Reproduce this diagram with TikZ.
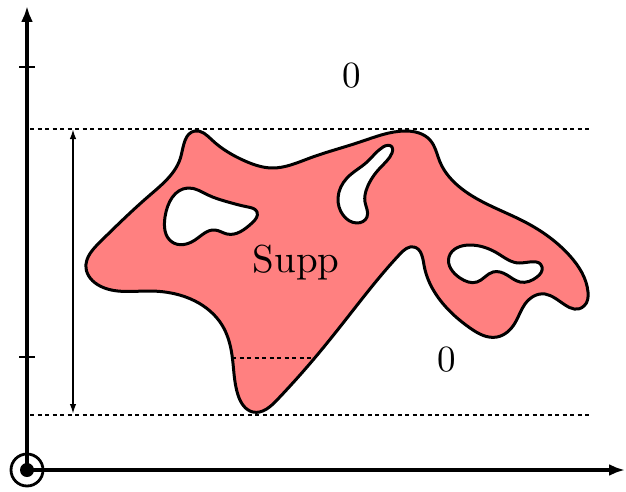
\documentclass[tikz,border=0pt]{standalone}
\usetikzlibrary{arrows.meta,hobby}
\definecolor{suppred}{HTML}{FF8080}
\begin{document}
\begin{tikzpicture}[x=1pt,y=-1pt,
  axis/.style={line width=3.6pt,-{Latex[length=16pt,width=12pt]}},
  tickmark/.style={line width=2.2pt},
  guide/.style={line width=2pt,dash pattern=on 4pt off 3.5pt},
  dimarrow/.style={line width=1.8pt,{Latex[length=10pt,width=6.5pt]}-{Latex[length=10pt,width=6.5pt]}},
  outline/.style={draw=black,line width=3pt,line join=round},
  lab/.style={inner sep=0pt}]
\useasboundingbox (0,0) rectangle (626,492);
% origin
\coordinate (O) at (27,470);
\coordinate (ytop) at (27,6);
\coordinate (xend) at (625,470);
\draw[axis] (O) -- (ytop);
\draw[axis] (O) -- (xend);
\draw[line width=2.8pt] (O) circle[radius=16];
\fill (O) circle[radius=7];
% ticks
\draw[tickmark] (19,67) -- (35,67);
\draw[tickmark] (19,357) -- (35,357);
% shape
\draw[outline,fill=suppred,use Hobby shortcut,closed=true]
 (195,131) .. (212,140) .. (245,161) .. (272,168) .. (310,158) .. (360,142)
 .. (405,131) .. (430,140) .. (440,162) .. (462,189) .. (525,222) .. (570,256)
 .. (588,292) .. (584,306) .. (545,294) .. (525,304) .. (515,323) .. (497,337)
 .. (470,328) .. (440,300) .. (424,265) .. (414,247) .. (400,254) .. (347,318)
 .. (313,360) .. (277,400) .. (253,412) .. (238,395) .. (232,355) .. (222,325)
 .. (195,301) .. (150,291) .. (100,286) .. (86,268) .. (100,242) .. (150,195)
 .. (181,156);
% holes
\draw[outline,fill=white,use Hobby shortcut,closed=true]
 (188,188) .. (165,217) .. (172,242) .. (195,240) .. (215,230) .. (227,234)
 .. (252,223) .. (257,212) .. (248,207) .. (228,202) .. (208,195);
\draw[outline,fill=white,use Hobby shortcut,closed=true]
 (392,147) .. (383,147) .. (367,162) .. (347,178) .. (338,198) .. (343,215)
 .. (357,223) .. (367,217) .. (365,202) .. (367,188) .. (380,168) .. (392,153);
\draw[outline,fill=white,use Hobby shortcut,closed=true]
 (449,257) .. (470,245) .. (497,253) .. (520,263) .. (542,267) .. (537,277)
 .. (520,282) .. (507,275) .. (493,272) .. (477,282) .. (460,278);
% guides
\coordinate (gt1) at (30,129); \coordinate (gt2) at (590,129);
\coordinate (gb1) at (30,415); \coordinate (gb2) at (590,415);
\coordinate (gm1) at (232,358); \coordinate (gm2) at (316,358);
\draw[guide] (gt1) -- (gt2);
\draw[guide] (gb1) -- (gb2);
\draw[guide] (gm1) -- (gm2);
\coordinate (d1) at (73,129); \coordinate (d2) at (73,414);
\draw[dimarrow] (d1) -- (d2);
% labels
\node[lab] (z1) at (352,76) {\scalebox{3.7}{0}};
\node[lab] (z2) at (447,360) {\scalebox{3.7}{0}};
\node[lab] (supp) at (296,263) {\scalebox{3.9}{Supp}};
\end{tikzpicture}
\end{document}
